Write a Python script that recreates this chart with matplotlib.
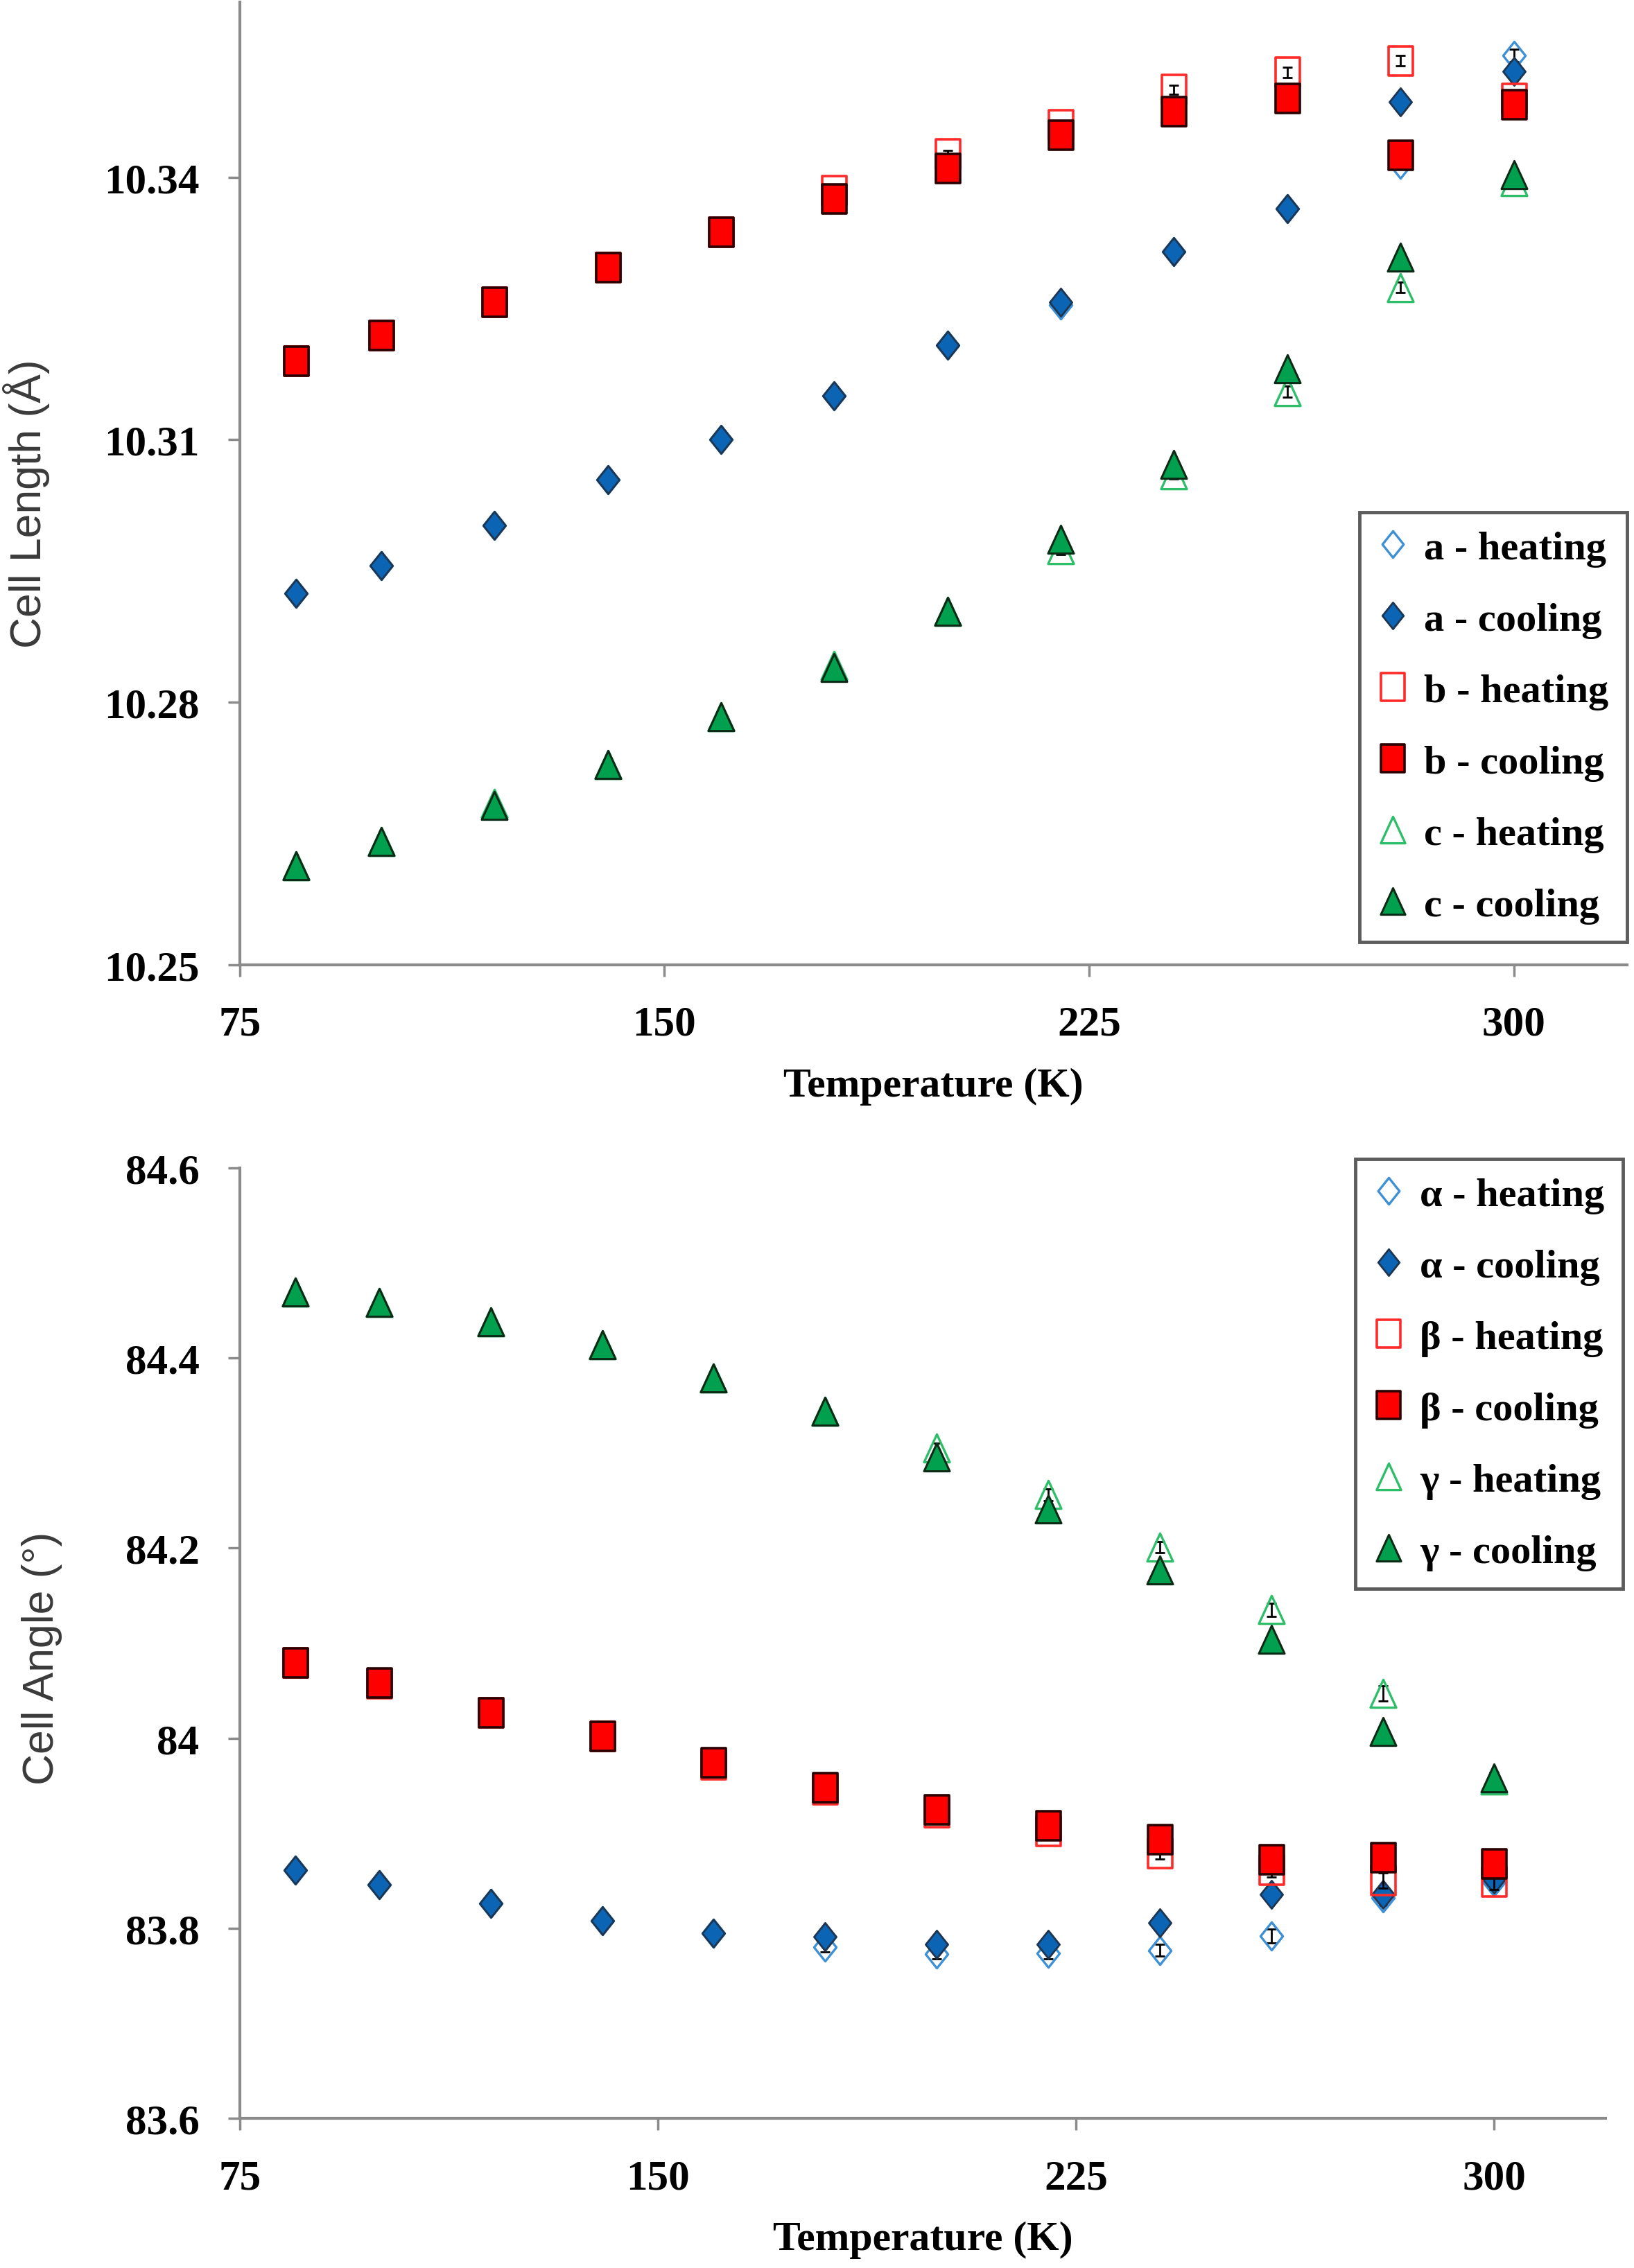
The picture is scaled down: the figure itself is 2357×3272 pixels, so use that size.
import matplotlib
matplotlib.use("Agg")
import matplotlib.pyplot as plt
from matplotlib.path import Path
import numpy as np

# ---------------- data ----------------
temps = [85, 100, 120, 140, 160, 180, 200, 220, 240, 260, 280, 300]

a_heat = [10.2924, 10.2956, 10.3002, 10.3054, 10.3100, 10.3150, 10.3208, 10.3254, 10.3315, 10.3364, 10.3415, 10.3539]
a_cool = [10.2924, 10.2956, 10.3002, 10.3054, 10.3100, 10.3150, 10.3208, 10.3257, 10.3315, 10.3364, 10.3486, 10.3521]
b_heat = [10.3190, 10.3219, 10.3257, 10.3297, 10.3337, 10.3385, 10.3427, 10.3460, 10.3500, 10.3520, 10.3533, 10.3490]
b_cool = [10.3190, 10.3219, 10.3257, 10.3297, 10.3337, 10.3375, 10.3410, 10.3448, 10.3475, 10.3490, 10.3425, 10.3483]
c_heat = [10.2613, 10.2641, 10.2684, 10.2729, 10.2783, 10.2842, 10.2904, 10.2974, 10.3060, 10.3155, 10.3274, 10.3395]
c_cool = [10.2613, 10.2641, 10.2682, 10.2729, 10.2783, 10.2840, 10.2904, 10.2986, 10.3072, 10.3181, 10.3309, 10.3403]
len_err = [0.0003, 0.0003, 0.0003, 0.0003, 0.0003, 0.0004, 0.0004, 0.0005, 0.0005, 0.0006, 0.0006, 0.0007]

al_heat = [83.861, 83.846, 83.826, 83.808, 83.795, 83.780, 83.773, 83.774, 83.777, 83.792, 83.832, 83.849]
al_cool = [83.861, 83.846, 83.826, 83.808, 83.795, 83.791, 83.783, 83.783, 83.806, 83.836, 83.836, 83.852]
be_heat = [84.079, 84.057, 84.027, 84.002, 83.972, 83.946, 83.922, 83.902, 83.879, 83.861, 83.850, 83.849]
be_cool = [84.079, 84.058, 84.027, 84.002, 83.974, 83.948, 83.925, 83.908, 83.893, 83.872, 83.874, 83.868]
ga_heat = [84.469, 84.458, 84.438, 84.414, 84.379, 84.344, 84.305, 84.256, 84.201, 84.135, 84.047, 83.956]
ga_cool = [84.469, 84.458, 84.438, 84.414, 84.379, 84.344, 84.296, 84.241, 84.177, 84.104, 84.007, 83.958]
ang_err = [0.004, 0.004, 0.004, 0.004, 0.004, 0.005, 0.005, 0.006, 0.006, 0.007, 0.008, 0.008]

len_ticks = [10.25, 10.28, 10.31, 10.34]
ang_ticks = [83.6, 83.8, 84.0, 84.2, 84.4, 84.6]
ang_ticklabels = ["83.6", "83.8", "84", "84.2", "84.4", "84.6"]
t_ticks = [75, 150, 225, 300]

len_labels = ["a - heating", "a - cooling", "b - heating", "b - cooling", "c - heating", "c - cooling"]
ang_labels = ["α - heating", "α - cooling", "β - heating", "β - cooling", "γ - heating", "γ - cooling"]

# ---------------- styles ----------------
diamond = Path([(0, 0.5), (0.4, 0), (0, -0.5), (-0.4, 0), (0, 0.5)],
               [Path.MOVETO, Path.LINETO, Path.LINETO, Path.LINETO, Path.CLOSEPOLY])
rect = Path([(-0.42, -0.5), (0.42, -0.5), (0.42, 0.5), (-0.42, 0.5), (-0.42, -0.5)],
            [Path.MOVETO, Path.LINETO, Path.LINETO, Path.LINETO, Path.CLOSEPOLY])
tri = Path([(0, 0.5), (0.46, -0.5), (-0.46, -0.5), (0, 0.5)],
           [Path.MOVETO, Path.LINETO, Path.LINETO, Path.CLOSEPOLY])

styles = [
    dict(marker=diamond, mfc="white", mec="#3D8FD6", mew=2.4, ms=29),
    dict(marker=diamond, mfc="#0B64B4", mec="#1E3550", mew=2.0, ms=29),
    dict(marker=rect, mfc="white", mec="#FF2A2A", mew=2.6, ms=30),
    dict(marker=rect, mfc="#FF0000", mec="#2A0000", mew=2.6, ms=30),
    dict(marker=tri, mfc="white", mec="#2EBE6A", mew=2.4, ms=29),
    dict(marker=tri, mfc="#00A04E", mec="#0B2A15", mew=2.2, ms=29),
]

serif = ["Liberation Serif", "DejaVu Serif"]
sans = ["Liberation Sans", "DejaVu Sans"]
spine_col = "#8A8A8A"

fig = plt.figure(figsize=(23.57, 32.73), dpi=100)
ax1 = fig.add_axes([0.1467, 0.5745, 0.849, 0.4242])
ax2 = fig.add_axes([0.1467, 0.0659, 0.836, 0.4191])


def draw(ax, series, errs):
    handles = []
    for i, (vals, st) in enumerate(zip(series, styles)):
        if i % 2 == 0:
            ax.errorbar(temps, vals, yerr=errs, fmt="none", ecolor="black",
                        elinewidth=2.0, capsize=5, capthick=2.0, zorder=2 + i)
            st2 = dict(st)
            st2["mfc"] = "none"
            ax.plot(temps, vals, ls="none", zorder=2.5 + i, **st2)
            hl, = ax.plot([], [], ls="none", **st)
            handles.append(hl)
        else:
            h, = ax.plot(temps, vals, ls="none", zorder=2.5 + i, **st)
            handles.append(h)
    return handles


def style_axes(ax):
    for s in ["top", "right"]:
        ax.spines[s].set_visible(False)
    for s in ["left", "bottom"]:
        ax.spines[s].set_color(spine_col)
        ax.spines[s].set_linewidth(3)
    ax.tick_params(axis="both", direction="out", length=12, width=2.5,
                   color=spine_col, pad=30)
    ax.set_xlim(75, 320)
    ax.set_xticks(t_ticks)
    ax.set_xticklabels([str(t) for t in t_ticks], fontfamily=serif,
                       fontweight="bold", fontsize=44)
    ax.set_xlabel("Temperature (K)", fontfamily=serif, fontweight="bold",
                  fontsize=43, labelpad=24)


h1 = draw(ax1, [a_heat, a_cool, b_heat, b_cool, c_heat, c_cool], len_err)
style_axes(ax1)
ax1.set_ylim(10.25, 10.36)
ax1.set_yticks(len_ticks)
ax1.set_yticklabels(["%.2f" % v for v in len_ticks], fontfamily=serif,
                    fontweight="bold", fontsize=44)
ax1.set_ylabel("Cell Length (Å)", fontfamily=sans, fontsize=45, color="#3A3A3A")
ax1.yaxis.set_label_coords(-0.137, 0.48)

h2 = draw(ax2, [al_heat, al_cool, be_heat, be_cool, ga_heat, ga_cool], ang_err)
style_axes(ax2)
ax2.set_ylim(83.6, 84.6)
ax2.set_yticks(ang_ticks)
ax2.set_yticklabels(ang_ticklabels, fontfamily=serif, fontweight="bold", fontsize=44)
ax2.set_ylabel("Cell Angle (°)", fontfamily=sans, fontsize=45, color="#3A3A3A")
ax2.yaxis.set_label_coords(-0.13, 0.485)

for hs, labs, anchor in [(h1, len_labels, (0.832, 0.774)),
                         (h2, ang_labels, (0.8295, 0.489))]:
    leg = fig.legend(hs, labs, loc="upper left", bbox_to_anchor=anchor,
                     bbox_transform=fig.transFigure, frameon=True, fancybox=False,
                     prop=dict(family=serif, weight="bold", size=42),
                     labelspacing=0.86, handletextpad=0.4, borderpad=0.45,
                     handlelength=0.75, markerscale=0.95, borderaxespad=0)
    fr = leg.get_frame()
    fr.set_edgecolor("#333333")
    fr.set_linewidth(3.5)

fig.savefig("out.png", dpi=100, facecolor="white")
